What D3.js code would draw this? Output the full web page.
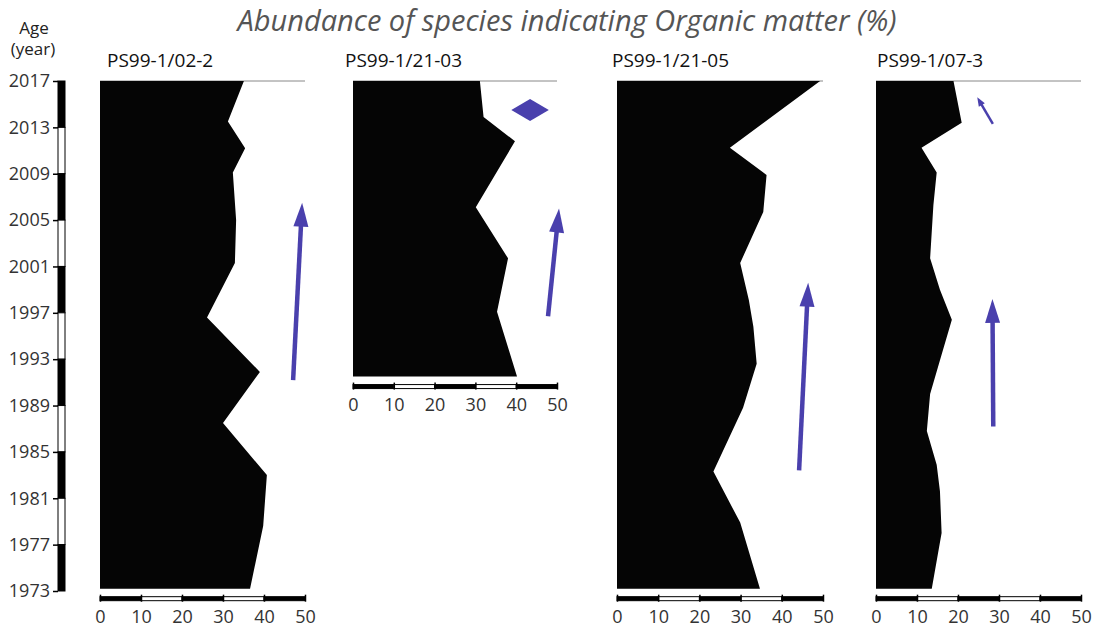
<!DOCTYPE html>
<html>
<head>
<meta charset="utf-8">
<script src="https://cdn.jsdelivr.net/npm/d3@7"></script>
<style>
  html, body { margin: 0; padding: 0; background: #fff; }
  svg { display: block; font-family: "Open Sans", "DejaVu Sans", sans-serif; }
</style>
</head>
<body>
<svg id="chart" width="1102" height="632"></svg>
<script>
// ---- Data: organic-matter indicator abundance (%) by core, versus age ----
const coreNames = ["PS99-1/02-2", "PS99-1/21-03", "PS99-1/21-05", "PS99-1/07-3"];

const years1  = [2017, 2013.5, 2011.2, 2009.1, 2005, 2001.3, 1996.6, 1991.9, 1987.5, 1983.0, 1978.6, 1973.2];
const values1 = [35.1, 31.2, 35.4, 32.4, 33.2, 32.9, 26.1, 39.0, 30.0, 40.7, 39.8, 36.6];

const years2  = [2017, 2013.9, 2011.8, 2006.1, 2001.7, 1997.1, 1991.5];
const values2 = [31.1, 32.0, 39.7, 30.1, 38.0, 35.3, 40.2];

const years3  = [2017, 2011.25, 2008.9, 2005.7, 2001.3, 1998.1, 1995.8, 1992.6, 1988.8, 1983.3, 1978.9, 1973.2];
const values3 = [49.3, 27.4, 36.3, 35.5, 29.9, 32.0, 33.1, 33.9, 30.6, 23.4, 29.9, 34.7];

const years4  = [2017, 2013.4, 2011.25, 2009.1, 2006.3, 2001.7, 1999.0, 1996.4, 1992.9, 1990.0, 1986.8, 1983.9, 1981.6, 1978.0, 1973.2];
const values4 = [18.9, 20.9, 11.1, 14.8, 14.0, 13.2, 15.6, 18.5, 15.6, 13.2, 12.4, 14.8, 15.6, 16.0, 13.6];

const ageTicks   = [2017, 2013, 2009, 2005, 2001, 1997, 1993, 1989, 1985, 1981, 1977, 1973];
const valueTicks = [0, 10, 20, 30, 40, 50];

// Trend arrows per core: [value, year] of tail and tip
const arrows1 = [{ from: [47.1, 1991.2], to: [49.3, 2006.5], big: true }];
const arrows2 = [{ from: [47.8, 1996.7], to: [50.5, 2006.0], big: true }];
const arrows3 = [{ from: [44.2, 1983.4], to: [46.4, 1999.6], big: true }];
const arrows4 = [{ from: [28.6, 1987.2], to: [28.4, 1998.2], big: true },
                 { from: [28.5, 2013.3], to: [24.7, 2015.6], big: false }];

// Diamond marker (core PS99-1/21-03): centre and half-extents in data units
const diamonds2 = [{ v: 43.4, year: 2014.5, dv: 4.6, dy: 0.95 }];

// ---- Layout ----
const svg = d3.select("#chart");
const arrowColor = "#4a40ad";
const labelFont = 18;
const yTop = 81, yBottom = 591;
const y = d3.scaleLinear().domain([2017, 1973]).range([yTop, yBottom]);

const panels = [
  { name: coreNames[0], years: years1, values: values1, arrows: arrows1, diamonds: [],        x0: 100, x1: 305, titleDx: 7 },
  { name: coreNames[1], years: years2, values: values2, arrows: arrows2, diamonds: diamonds2, x0: 353, x1: 557, titleDx: -8 },
  { name: coreNames[2], years: years3, values: values3, arrows: arrows3, diamonds: [],        x0: 617, x1: 823, titleDx: -5 },
  { name: coreNames[3], years: years4, values: values4, arrows: arrows4, diamonds: [],        x0: 876, x1: 1081, titleDx: 1 }
];

// Main title
svg.append("text")
  .attr("x", 567).attr("y", 31)
  .attr("text-anchor", "middle")
  .attr("font-size", 29).attr("font-style", "italic")
  .attr("fill", "#555")
  .text("Abundance of species indicating Organic matter (%)");

// Age axis heading
svg.append("text").attr("x", 34).attr("y", 34).attr("text-anchor", "middle")
  .attr("font-size", 17).attr("fill", "#222").text("Age");
svg.append("text").attr("x", 33).attr("y", 55).attr("text-anchor", "middle")
  .attr("font-size", 17).attr("fill", "#222").text("(year)");

// Age axis: alternating black / white bar with ticks
const barX = 58, barW = 7;
const ageSeg = d3.pairs(ageTicks);
svg.append("g").selectAll("rect").data(ageSeg).join("rect")
  .attr("x", barX).attr("width", barW)
  .attr("y", d => y(d[0])).attr("height", d => y(d[1]) - y(d[0]))
  .attr("fill", (d, i) => i % 2 === 0 ? "#000" : "#fff")
  .attr("stroke", "#000").attr("stroke-width", 1);

const ageAxis = svg.append("g").attr("transform", `translate(${barX},0)`)
  .call(d3.axisLeft(y).tickValues(ageTicks).tickFormat(d3.format("d")).tickSize(5).tickPadding(3));
ageAxis.select(".domain").remove();
ageAxis.selectAll("line").attr("stroke", "#000").attr("stroke-width", 1.5);
ageAxis.selectAll("text").attr("font-size", labelFont).attr("fill", "#333")
  .attr("font-family", "\"Open Sans\", sans-serif");

// Panels
panels.forEach(p => {
  const x = d3.scaleLinear().domain([0, 50]).range([p.x0, p.x1]);
  const g = svg.append("g");
  const pts = p.years.map((yr, i) => ({ year: yr, v: p.values[i] }));
  const lastYear = p.years[p.years.length - 1];

  // thin top line at the core top
  g.append("line")
    .attr("x1", x(0)).attr("x2", x(50))
    .attr("y1", y(2017)).attr("y2", y(2017))
    .attr("stroke", "#888").attr("stroke-width", 1);

  // silhouette
  const area = d3.area().x0(x(0)).x1(d => x(d.v)).y(d => y(d.year));
  g.append("path").datum(pts).attr("d", area).attr("fill", "#050505");

  // panel title
  g.append("text")
    .attr("x", p.x0 + p.titleDx).attr("y", 67)
    .attr("font-size", 19).attr("fill", "#111")
    .text(p.name);

  // bottom value axis: alternating bar
  const axisY = y(lastYear) + 10;
  g.append("g").selectAll("rect").data(d3.pairs(valueTicks)).join("rect")
    .attr("x", d => x(d[0])).attr("width", d => x(d[1]) - x(d[0]))
    .attr("y", axisY - 2).attr("height", 4)
    .attr("fill", (d, i) => i % 2 === 0 ? "#000" : "#fff")
    .attr("stroke", "#000").attr("stroke-width", 1);

  const xAxis = g.append("g").attr("transform", `translate(0,${axisY - 2})`)
    .call(d3.axisBottom(x).tickValues(valueTicks).tickSize(5).tickPadding(9));
  xAxis.select(".domain").remove();
  xAxis.selectAll("line").attr("stroke", "#000").attr("stroke-width", 1.5).attr("y1", -2);
  xAxis.selectAll("text").attr("font-size", labelFont).attr("fill", "#333")
    .attr("font-family", "\"Open Sans\", sans-serif");

  // trend arrows
  p.arrows.forEach(a => {
    const x1 = x(a.from[0]), y1 = y(a.from[1]);
    const x2 = x(a.to[0]),   y2 = y(a.to[1]);
    const len = Math.hypot(x2 - x1, y2 - y1);
    const ux = (x2 - x1) / len, uy = (y2 - y1) / len;
    const headL = a.big ? 24 : 9, headW = a.big ? 7.5 : 3.5, sw = a.big ? 4.5 : 2.5;
    const bx = x2 - ux * headL, by = y2 - uy * headL;
    g.append("line")
      .attr("x1", x1).attr("y1", y1).attr("x2", bx + ux * 2).attr("y2", by + uy * 2)
      .attr("stroke", arrowColor).attr("stroke-width", sw);
    g.append("path")
      .attr("d", d3.line()([[x2, y2], [bx - uy * headW, by + ux * headW], [bx + uy * headW, by - ux * headW]]) + "Z")
      .attr("fill", arrowColor);
  });

  // diamond markers
  p.diamonds.forEach(d => {
    g.append("path")
      .attr("d", d3.line()([
        [x(d.v), y(d.year + d.dy)], [x(d.v + d.dv), y(d.year)],
        [x(d.v), y(d.year - d.dy)], [x(d.v - d.dv), y(d.year)]
      ]) + "Z")
      .attr("fill", arrowColor);
  });
});
</script>
</body>
</html>
